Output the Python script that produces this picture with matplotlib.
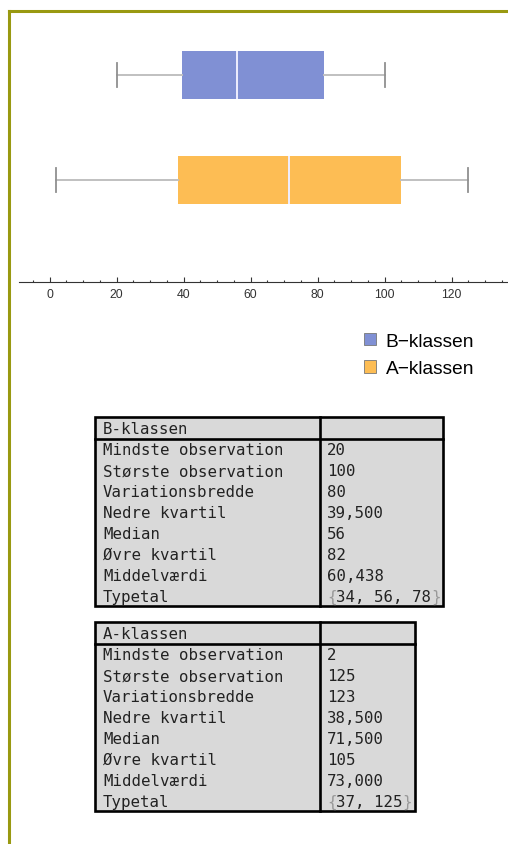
import matplotlib
matplotlib.use("Agg")
from matplotlib import pyplot as plt
from matplotlib.patches import Rectangle, Patch
from matplotlib.lines import Line2D
from matplotlib.ticker import MultipleLocator

plt.rcParams["font.family"] = ["Liberation Sans", "DejaVu Sans"]

# data
classes = ["B-klassen", "A-klassen"]
legend_labels = ["B\u2212klassen", "A\u2212klassen"]
row_labels = ["Mindste observation", "Største observation", "Variationsbredde",
              "Nedre kvartil", "Median", "Øvre kvartil", "Middelværdi", "Typetal"]
b_stats = [20, 100, 80, 39.5, 56, 82, 60.438]
b_modes = [34, 56, 78]
a_stats = [2, 125, 123, 38.5, 71.5, 105, 73.0]
a_modes = [37, 125]

colors = ["#8090d4", "#fdbd54"]
W, H, DPI = 508, 845, 100

fig = plt.figure(figsize=(W / DPI, H / DPI), dpi=DPI)

# background overlay in pixel coords
bg = fig.add_axes([0, 0, 1, 1])
bg.set_xlim(0, W)
bg.set_ylim(H, 0)
bg.axis("off")
olive = "#999911"
bg.add_line(Line2D([9, W], [12, 12], color=olive, lw=2.2))
bg.add_line(Line2D([9, 9], [12, H], color=olive, lw=2.2))

# box plot axes
ax_top, ax_bot, ax_left = 13, 283, 19
ax = fig.add_axes([ax_left / W, (H - ax_bot) / H, (W - ax_left) / W, (ax_bot - ax_top) / H])
ax.patch.set_alpha(0)
px = 3.35
x0 = 49.5
ax.set_xlim((ax_left - x0) / px, (W - x0) / px)
ax.set_ylim(1 - 102 / 105, 2 + 63 / 105)

stats = []
for name, s in zip(classes, [b_stats, a_stats]):
    stats.append(dict(label=name, whislo=s[0], whishi=s[1], q1=s[3], med=s[4], q3=s[5]))
positions = [2, 1]
bp = ax.bxp(stats, positions=positions, vert=False, widths=0.46, patch_artist=True,
            showfliers=False, capwidths=0.23,
            boxprops=dict(linewidth=0),
            whiskerprops=dict(color="#c0c0c0", linewidth=1.4),
            capprops=dict(color="#909090", linewidth=1.3),
            medianprops=dict(color="#eeeeff", linewidth=1.4))
for box, c in zip(bp["boxes"], colors):
    box.set_facecolor(c)
    box.set_edgecolor(c)

for sp in ["top", "left", "right"]:
    ax.spines[sp].set_visible(False)
ax.spines["bottom"].set_color("#333333")
ax.spines["bottom"].set_linewidth(0.8)
ax.set_yticks([])
ax.xaxis.set_major_locator(MultipleLocator(20))
ax.xaxis.set_minor_locator(MultipleLocator(5))
ax.tick_params(axis="x", which="major", direction="in", length=3.8, width=0.8,
               labelsize=8.8, labelcolor="#333333", pad=4.5, color="#333333")
ax.tick_params(axis="x", which="minor", direction="in", length=1.8, width=0.8, color="#333333")

# legend
handles = [Patch(facecolor=c, edgecolor="#777777", linewidth=0.6) for c in colors]
fig.legend(handles, legend_labels, loc="upper left", bbox_to_anchor=(354 / W, 1 - 324 / H),
           frameon=False, fontsize=13.8, handlelength=0.63, handleheight=0.63,
           handletextpad=0.52, labelspacing=0.55, borderpad=0)

# tables
fs = 11.3
cw = fs * 0.602 * DPI / 72
rh = 21.0
mono = "DejaVu Sans Mono"


def fmt(v):
    if isinstance(v, int):
        return str(v)
    return f"{v:.3f}".replace(".", ",")


def draw_table(title, s, modes, left, top):
    vals = [fmt(v) for v in s]
    mode_txt = ", ".join(str(m) for m in modes)
    c1 = 225
    c2 = (len(mode_txt) + 2) * cw + 10
    nrows = len(row_labels) + 1
    height = nrows * rh
    bg.add_patch(Rectangle((left, top), c1 + c2, height, facecolor="#d9d9d9",
                           edgecolor="none"))
    lw = 1.9
    bg.add_patch(Rectangle((left, top), c1 + c2, height, facecolor="none",
                           edgecolor="black", linewidth=lw))
    bg.add_line(Line2D([left, left + c1 + c2], [top + rh + 1, top + rh + 1], color="black", lw=lw))
    bg.add_line(Line2D([left + c1, left + c1], [top, top + height], color="black", lw=lw))
    tx = left + 8
    vx = left + c1 + 7
    bg.text(tx, top + rh / 2 + 1, title, family=mono, fontsize=fs, va="center", ha="left",
            color="#222222")
    for i, lab in enumerate(row_labels):
        yc = top + rh * (i + 1.5) + 1
        bg.text(tx, yc, lab, family=mono, fontsize=fs, va="center", ha="left", color="#222222")
        if i < len(vals):
            bg.text(vx, yc, vals[i], family=mono, fontsize=fs, va="center", ha="left",
                    color="#222222")
        else:
            bg.text(vx, yc, "{", family=mono, fontsize=fs, va="center", ha="left", color="#999999")
            bg.text(vx + cw, yc, mode_txt, family=mono, fontsize=fs, va="center", ha="left",
                    color="#222222")
            bg.text(vx + cw * (len(mode_txt) + 1), yc, "}", family=mono, fontsize=fs,
                    va="center", ha="left", color="#999999")


draw_table(classes[0], b_stats, b_modes, 95, 418)
draw_table(classes[1], a_stats, a_modes, 95, 623)

fig.savefig("out.png", dpi=DPI)
